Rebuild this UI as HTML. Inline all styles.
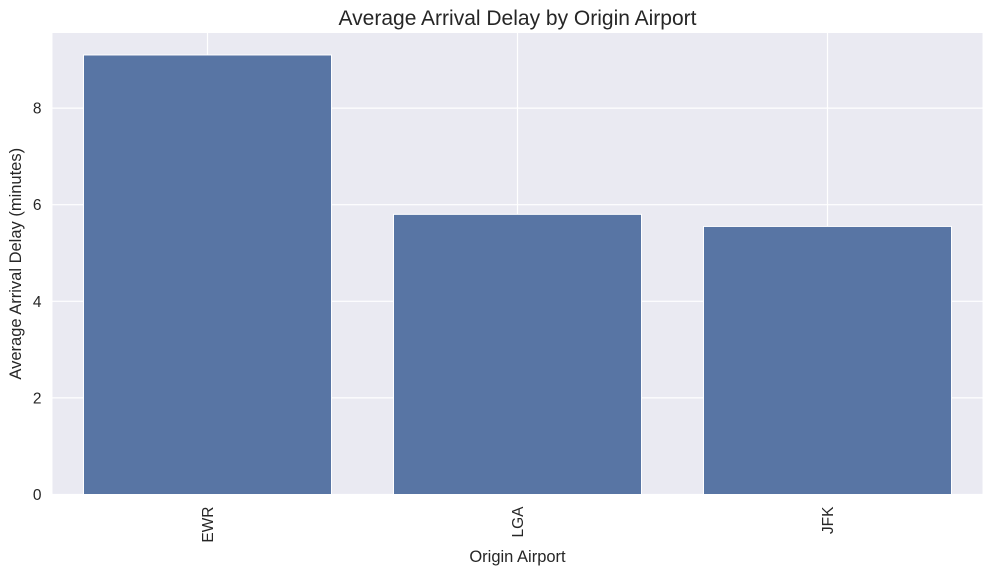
<!DOCTYPE html>
<html><head><meta charset="utf-8"><style>
body{margin:0;background:#fff;}
svg{display:block;font-family:"Liberation Sans","DejaVu Sans",sans-serif;}
</style></head><body>
<svg id="chart" width="992" height="574"></svg>
<script>
const categories = ["EWR","LGA","JFK"];
const values = [9.10, 5.80, 5.55];
const yTicks = [0,2,4,6,8];
const yMax = 9.555;

const svg = document.getElementById('chart');
const NS = 'http://www.w3.org/2000/svg';
const L=52.5, R=982.5, T=33, B=494.5;
const band=(R-L)/categories.length;
const x = i => L + band*(i+0.5);
const y = v => B - (B-T)*v/yMax;
function el(tag, attrs, parent){const e=document.createElementNS(NS,tag);for(const k in attrs)e.setAttribute(k,attrs[k]);(parent||svg).appendChild(e);return e;}

const bg = el('rect',{x:L,y:T,width:R-L,height:B-T,fill:'#eaeaf2'});



yTicks.forEach(t=>{
  const g = el('line',{x1:L,x2:R,y1:y(t),y2:y(t),stroke:'#fff','stroke-width':1.2});
  
  
  const lb = el('text',{x:L-11,y:y(t)+5.5,'text-anchor':'end','font-size':15.5,fill:'#262626'});
  lb.textContent=t;
  
  
});
categories.forEach((c,i)=>{
  const g = el('line',{x1:x(i),x2:x(i),y1:T,y2:B,stroke:'#fff','stroke-width':1.2});
  
  
});
categories.forEach((c,i)=>{
  const w=band*0.8;
  const r = el('rect',{x:x(i)-w/2,y:y(values[i]),width:w,height:B-y(values[i]),fill:'#5875a4',stroke:'#fff','stroke-width':1});
  
  
  const lb = el('text',{x:0,y:0,'text-anchor':'end','font-size':15.5,fill:'#262626',transform:`translate(${x(i)+5.5},${B+12}) rotate(-90)`});
  lb.textContent=c;
  
  
});
const title = el('text',{x:(L+R)/2,y:25,'text-anchor':'middle','font-size':21,fill:'#262626'});
title.textContent='Average Arrival Delay by Origin Airport';


const xt = el('text',{x:(L+R)/2,y:562,'text-anchor':'middle','font-size':16.5,fill:'#262626'});
xt.textContent='Origin Airport';


const yt = el('text',{x:0,y:0,'text-anchor':'middle','font-size':16.5,fill:'#262626',transform:`translate(21,${(T+B)/2}) rotate(-90)`});
yt.textContent='Average Arrival Delay (minutes)';


</script>
</body></html>
